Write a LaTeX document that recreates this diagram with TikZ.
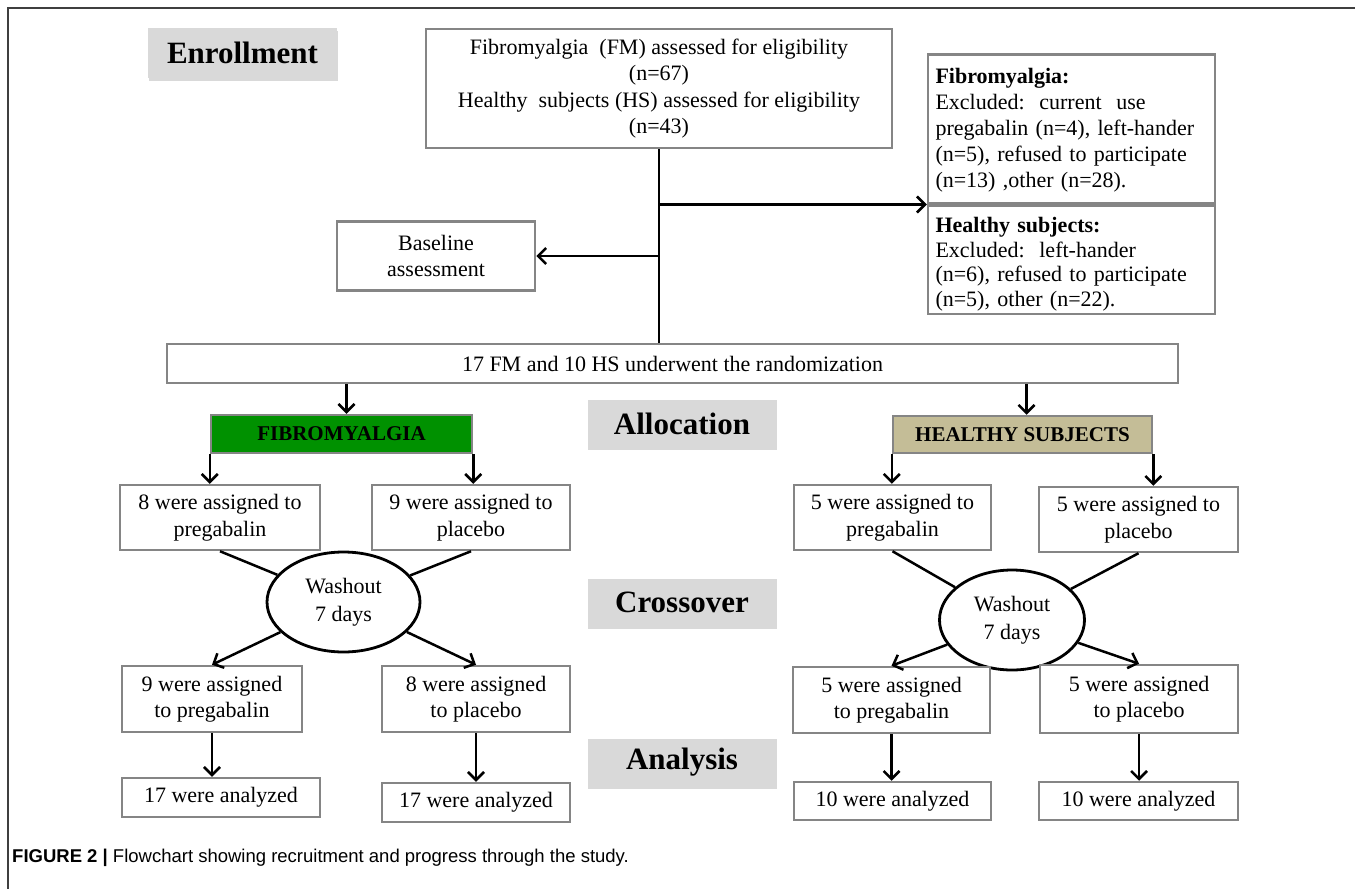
\documentclass[tikz,border=0pt]{standalone}
\usepackage{fontspec}
\setmainfont{Liberation Serif}
\setsansfont{Liberation Sans}
\usetikzlibrary{arrows.meta,shapes.geometric,shadows}
\definecolor{edgegray}{HTML}{858585}
\definecolor{labelgray}{HTML}{D9D9D9}
\definecolor{fmgreen}{HTML}{009100}
\definecolor{hstan}{HTML}{C4BD97}
\definecolor{framegray}{HTML}{3F3F3F}
\tikzset{
  flowbox/.style={draw=edgegray, line width=2.5pt, fill=white, align=center, inner sep=2pt, font=\fontsize{22}{26.5}\selectfont},
  exbox/.style={flowbox, anchor=north, align=left, text width=272pt, minimum width=287pt, inner xsep=7pt, inner ysep=0pt},
  phase/.style={fill=labelgray, minimum width=189pt, minimum height=47pt, font=\bfseries\fontsize{31}{36}\selectfont, drop shadow={shadow xshift=0.5pt, shadow yshift=-2.5pt, opacity=0.3}},
  groupbox/.style={draw=edgegray, line width=2.5pt, font=\bfseries\fontsize{21}{24}\selectfont},
  washout/.style={ellipse, draw, line width=2.8pt, fill=white, align=center, inner sep=0pt, font=\fontsize{22}{28}\selectfont},
  link/.style={line width=2.5pt},
  arr/.style={line width=2.5pt, -{Straight Barb[length=8pt,width=16pt]}},
}
\begin{document}
\begin{tikzpicture}[x=1pt,y=-1pt]
\useasboundingbox (0,0) rectangle (1355,889);
\draw[framegray, line width=2pt] (8,889) -- (8,8) -- (1355,8);

\node[phase, minimum height=50pt] (enroll) at (242.5,53) {Enrollment};
\node[phase] (alloc) at (682,423.5) {Allocation};
\node[phase] (cross) at (682,602.5) {Crossover};
\node[phase] (analysis) at (682,762.5) {Analysis};

\node[flowbox, minimum width=466pt, minimum height=119pt] (assess) at (659,88.5) {Fibromyalgia\ \ (FM) assessed for eligibility\\(n=67)\\Healthy\ \ subjects (HS) assessed for eligibility\\(n=43)};
\node[exbox, text height=29pt, text depth=120pt, font=\fontsize{22}{26}\selectfont] (exfm) at (1071.5,53) {\textbf{Fibromyalgia:}\\Excluded:\ \ current\ \ use\\pregabalin (n=4), left-hander\\(n=5), refused to participate\\(n=13) ,other (n=28).};
\node[exbox, text height=27pt, text depth=81pt, font=\fontsize{22}{24.5}\selectfont] (exhs) at (exfm.south) {\textbf{Healthy subjects:}\\Excluded:\ \ left-hander\\(n=6), refused to participate\\(n=5), other (n=22).};
\node[flowbox, minimum width=198pt, minimum height=69pt] (base) at (436,256) {Baseline\\assessment};
\node[flowbox, minimum width=1011pt, minimum height=39pt] (rand) at (672.5,363.5) {17 FM and 10 HS underwent the randomization};

\node[groupbox, fill=fmgreen, minimum width=261pt, minimum height=38pt] (fmgrp) at (341.5,434) {FIBROMYALGIA};
\node[groupbox, fill=hstan, minimum width=259pt, minimum height=37pt] (hsgrp) at (1022.5,434.5) {HEALTHY SUBJECTS};

\node[flowbox, minimum width=200pt, minimum height=65pt] (fmpre) at (220,517.5) {8 were assigned to\\pregabalin};
\node[flowbox, minimum width=198pt, minimum height=65pt] (fmpla) at (471,517.5) {9 were assigned to\\placebo};
\node[flowbox, minimum width=197pt, minimum height=65pt] (hspre) at (892.5,517.5) {5 were assigned to\\pregabalin};
\node[flowbox, minimum width=199pt, minimum height=65pt] (hspla) at (1138.5,519.5) {5 were assigned to\\placebo};

\node[washout, minimum width=153pt, minimum height=100pt] (fmwash) at (343.5,602) {Washout\\7 days};
\node[washout, minimum width=145pt, minimum height=100pt] (hswash) at (1012,620) {Washout\\7 days};

\node[flowbox, minimum width=180pt, minimum height=66pt] (fmpre2) at (212,699) {9 were assigned\\to pregabalin};
\node[flowbox, minimum width=188pt, minimum height=66pt] (fmpla2) at (476,699) {8 were assigned\\to placebo};
\node[flowbox, minimum width=197pt, minimum height=66pt] (hspre2) at (891.5,700) {5 were assigned\\to pregabalin};
\node[flowbox, minimum width=198pt, minimum height=68pt] (hspla2) at (1139,699) {5 were assigned\\to placebo};

\node[flowbox, minimum width=198pt, minimum height=39pt] (fman) at (221,797.5) {17 were analyzed};
\node[flowbox, minimum width=188pt, minimum height=39pt] (fman2) at (476,802.5) {17 were analyzed};
\node[flowbox, minimum width=197pt, minimum height=38pt] (hsan) at (892.5,801) {10 were analyzed};
\node[flowbox, minimum width=199pt, minimum height=38pt] (hsan2) at (1138.5,801) {10 were analyzed};

\coordinate (split) at (assess.south |- exfm.south);
\draw[link] (assess.south) -- (assess.south |- rand.north);
\draw[arr] (split) -- (exfm.south west);
\draw[arr] (assess.south |- base.east) -- (base.east);
\draw[arr] ([xshift=5pt]fmgrp.north |- rand.south) -- ([xshift=5pt]fmgrp.north);
\draw[arr] ([xshift=4pt]hsgrp.north |- rand.south) -- ([xshift=4pt]hsgrp.north);
\draw[arr] (fmgrp.south west) -- (fmgrp.south west |- fmpre.north);
\draw[arr] (fmgrp.south east) -- (fmgrp.south east |- fmpla.north);
\draw[arr] (hsgrp.south west) -- (hsgrp.south west |- hspre.north);
\draw[arr] (hsgrp.south east) -- (hsgrp.south east |- hspla.north);

\draw[link] (fmpre.south) -- (fmwash);
\draw[link] (fmpla.south) -- (fmwash);
\draw[arr] (fmwash) -- (fmpre2.north);
\draw[arr] (fmwash) -- (fmpla2.north);
\draw[link] (hspre.south) -- (hswash);
\draw[link] (hspla.south) -- (hswash);
\draw[arr] (hswash) -- (hspre2.north);
\draw[arr] (hswash) -- (hspla2.north);

\draw[arr] (fmpre2.south) -- (fmpre2.south |- fman.north);
\draw[arr] (fmpla2.south) -- (fmpla2.south |- fman2.north);
\draw[arr] (hspre2.south) -- (hspre2.south |- hsan.north);
\draw[arr] (hspla2.south) -- (hspla2.south |- hsan2.north);

\node[anchor=west, inner sep=0pt, font=\sffamily\fontsize{18.5}{20}\selectfont] (caption) at (12,858) {\textbf{FIGURE 2 |} Flowchart showing recruitment and progress through the study.};
\end{tikzpicture}
\end{document}
